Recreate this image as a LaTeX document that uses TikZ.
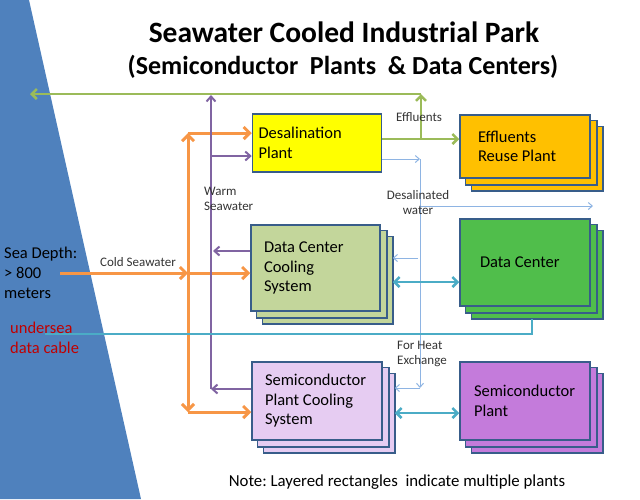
\documentclass[tikz,border=0pt]{standalone}
\usepackage{fontspec}
\setmainfont{Carlito}
\usepackage{tikz}
\usetikzlibrary{positioning,arrows.meta,calc,backgrounds}
\frenchspacing
\definecolor{sea}{HTML}{4F81BD}
\definecolor{boxline}{HTML}{385D8A}
\definecolor{desalfill}{HTML}{FFFF00}
\definecolor{reusefill}{HTML}{FFC000}
\definecolor{dcfill}{HTML}{50BE4B}
\definecolor{dccfill}{HTML}{C3D69B}
\definecolor{spcfill}{HTML}{E6CCF2}
\definecolor{spfill}{HTML}{C47BDB}
\definecolor{coldline}{HTML}{F79646}
\definecolor{warmline}{HTML}{8064A2}
\definecolor{effline}{HTML}{9BBB59}
\definecolor{freshline}{HTML}{8EB4E3}
\definecolor{heatline}{HTML}{4BACC6}
\definecolor{cablered}{HTML}{C00000}
\newcommand{\plantlayers}[2]{%
  \begin{scope}[on background layer]
    \foreach \off in {12,6}
      \draw[draw=boxline, line width=1.5pt, fill=#2]
        ($(#1.south west)+(\off,\off)$) rectangle ($(#1.north east)+(\off,\off)$);
  \end{scope}
  \coordinate (#1-back) at ($(#1.east)+(12,0)$);
}

\begin{document}
\begin{tikzpicture}[x=1pt,y=-1pt,
    plant/.style={draw=boxline, line width=1.5pt, inner ysep=0pt, align=flush left,
      font=\fontsize{16.5}{19.5}\selectfont},
    lbl/.style={font=\fontsize{13}{15}\selectfont, inner sep=0pt, text=black!80},
    side/.style={font=\fontsize{16.5}{20}\selectfont, inner sep=0pt, align=flush left, anchor=west},
    cold/.style={draw=coldline, line width=3pt, -{Straight Barb[length=6pt,width=12pt]}},
    warm/.style={draw=warmline, line width=2pt, -{Straight Barb[length=5pt,width=9pt]}},
    effl/.style={draw=effline, line width=2.5pt, -{Straight Barb[length=5pt,width=10pt]}},
    fresh/.style={draw=freshline, line width=1pt, -{Straight Barb[length=4pt,width=7pt]}},
    heat/.style={draw=heatline, line width=2.5pt,
      {Straight Barb[length=5pt,width=10pt]}-{Straight Barb[length=5pt,width=10pt]}},
    cable/.style={draw=heatline, line width=2.5pt}
]
\useasboundingbox (0,0) rectangle (640,499);
\fill[sea] (0,0) -- (29,0) -- (141,499) -- (0,499) -- cycle;

\node[font=\fontsize{29.5}{35}\bfseries\selectfont] (title) at (344,32)
  {Seawater Cooled Industrial Park};
\node[font=\fontsize{26}{31}\bfseries\selectfont] (subtitle) at (343,67)
  {(Semiconductor\ \ Plants\ \ \& Data Centers)};

% plants
\node[plant, fill=desalfill, text width=117pt, inner xsep=6pt, minimum height=58pt]
  (desal) at (317,143) {Desalination\\Plant};
\node[plant, fill=reusefill, text width=94pt, inner xsep=18pt, minimum height=63pt]
  (erp) at (525,146.5) {Effluents\\Reuse Plant};
\node[plant, fill=dccfill, text width=103pt, inner xsep=13pt, minimum height=86pt]
  (dccs) at (315.5,268) {Data Center\\Cooling\\System};
\node[plant, fill=dcfill, text width=90pt, inner xsep=20pt, minimum height=87pt]
  (dc) at (525,262.5) {Data Center};
\node[plant, fill=spcfill, text width=104pt, inner xsep=13pt, minimum height=78pt]
  (spcs) at (317,401) {Semiconductor\\Plant Cooling\\System};
\node[plant, fill=spfill, text width=102pt, inner xsep=14pt, minimum height=78pt]
  (sp) at (525,401) {Semiconductor\\Plant};
\plantlayers{erp}{reusefill}
\plantlayers{dccs}{dccfill}
\plantlayers{dc}{dcfill}
\plantlayers{spcs}{spcfill}
\plantlayers{sp}{spfill}

% cold seawater
\coordinate (csrc) at (60,273);
\coordinate (cjn) at (188,273);
\coordinate (ctop) at (188,133);
\coordinate (cbot) at (188,412);
\draw[cold] (csrc) -- (cjn);
\draw[cold] (cjn) -- (ctop);
\draw[cold] (cjn) -- (cbot);
\draw[cold] (ctop) -- (ctop -| desal.west);
\draw[cold] (cjn) -- (cjn -| dccs.west);
\draw[cold] (cbot) -- (cbot -| spcs.west);

% warm seawater
\coordinate (wtop) at (211,95);
\coordinate (wbot) at (211,389);
\coordinate (wdes) at (211,156);
\coordinate (wdcc) at (213,251);
\draw[warm] (wbot -| spcs.west) -- (wbot);
\draw[warm] (wbot) -- (wtop);
\draw[warm] (wdes) -- (wdes -| desal.west);
\draw[warm] (wdcc -| dccs.west) -- (wdcc);

% effluents
\coordinate (ejn) at (421,139);
\coordinate (etop) at (421,94);
\coordinate (eout) at (30,94);
\draw[effl] (ejn -| desal.east) -- (ejn -| erp.west);
\draw[effl] (ejn) -- (etop);
\draw[effl] (etop) -- (eout);

% desalinated water
\coordinate (fjn) at (420,159);
\coordinate (fbot) at (420,388);
\coordinate (fright) at (593,206);
\coordinate (fdcc) at (418,258);
\draw[fresh] (fjn -| desal.east) -- (fjn);
\draw[fresh] (fjn) -- (fbot);
\draw[fresh] (fright -| fjn) -- (fright);
\draw[fresh] (fdcc) -- (fdcc -| dccs-back);
\draw[fresh] (fbot) -- (fbot -| spcs-back);

% heat exchange and data cable
\coordinate (hdc) at (0,282);
\coordinate (hsp) at (0,413);
\draw[heat] (hdc -| dccs-back) -- (hdc -| dc.west);
\draw[heat] (hsp -| spcs-back) -- (hsp -| sp.west);
\coordinate (cab) at (45,334);
\draw[cable] (cab) -| ($(dc.south)+(7,12)$);

% labels
\node[lbl] (effllbl) at (419,117) {Effluents};
\node[lbl, align=flush left, anchor=west] (warmlbl) at (204,198.5) {Warm\\Seawater};
\node[lbl, align=center] (freshlbl) at (418,202.5) {Desalinated\\water};
\node[lbl, align=flush left, anchor=west] (heatlbl) at (397,353.5) {For Heat\\Exchange};
\node[lbl] (coldlbl) at (138,262) {Cold Seawater};
\node[side] (depth) at (4,273) {Sea Depth:\\> 800\\meters};
\node[side, text=cablered] (cablelbl) at (10,337.5) {undersea\\data cable};
\node[font=\fontsize{16.8}{19}\selectfont] (note) at (397,482)
  {Note: Layered rectangles\ \ indicate multiple plants};
\end{tikzpicture}
\end{document}
